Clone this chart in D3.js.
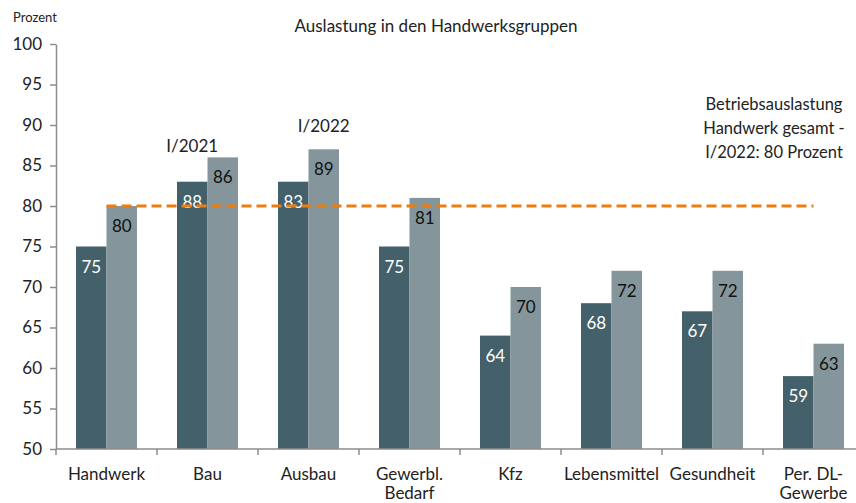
<!DOCTYPE html>
<html>
<head>
<meta charset="utf-8">
<script src="https://cdn.jsdelivr.net/npm/d3@7"></script>
<style>
  body { margin: 0; background: #fff; }
  text { font-family: Lato, "Open Sans", sans-serif; fill: #222; }
</style>
</head>
<body>
<script>
// data
const categories = ["Handwerk", "Bau", "Ausbau", "Gewerbl.|Bedarf", "Kfz", "Lebensmittel", "Gesundheit", "Per. DL-|Gewerbe"];
const series = ["I/2021", "I/2022"];
const values2021 = [75, 83, 83, 75, 64, 68, 67, 59];
const values2022 = [80, 86, 87, 81, 70, 72, 72, 63];
// printed labels (not always equal to bar heights in the original)
const labels2021 = [75, 88, 83, 75, 64, 68, 67, 59];
const labels2022 = [80, 86, 89, 81, 70, 72, 72, 63];
const yTicks = [50, 55, 60, 65, 70, 75, 80, 85, 90, 95, 100];
const totalValue = 80;

const canvWidth = 856, canvHeight = 503;
const svg = d3.select("body").append("svg")
    .attr("width", canvWidth)
    .attr("height", canvHeight);

const colors = ["#44606a", "#84969b"];

const yScale = d3.scaleLinear().domain([50, 100]).range([449, 44]);
const xScale = d3.scaleBand().domain(categories).range([56, 864]);
const xSub = d3.scaleBand().domain(series).range([20, xScale.bandwidth() - 20]);

// title
svg.append("text")
    .attr("x", 436).attr("y", 32)
    .attr("font-size", "17px")
    .style("text-anchor", "middle")
    .text("Auslastung in den Handwerksgruppen");

svg.append("text")
    .attr("x", 13).attr("y", 22)
    .attr("font-size", "13px")
    .text("Prozent");

// bars
const rows = categories.map((c, i) => ({
    cat: c,
    vals: [
        {s: series[0], v: values2021[i], l: labels2021[i]},
        {s: series[1], v: values2022[i], l: labels2022[i]}
    ]
}));

const groups = svg.append("g").selectAll("g")
    .data(rows)
    .enter().append("g")
    .attr("transform", d => "translate(" + xScale(d.cat) + ",0)");

groups.selectAll("rect")
    .data(d => d.vals)
    .enter().append("rect")
    .attr("x", d => xSub(d.s))
    .attr("y", d => yScale(d.v))
    .attr("width", xSub.bandwidth())
    .attr("height", d => yScale(50) - yScale(d.v))
    .style("fill", (d, i) => colors[i]);

groups.selectAll("text.val")
    .data(d => d.vals)
    .enter().append("text")
    .attr("class", "val")
    .attr("x", d => xSub(d.s) + xSub.bandwidth() / 2)
    .attr("y", d => yScale(d.v) + 26)
    .attr("font-size", "17px")
    .style("text-anchor", "middle")
    .style("fill", (d, i) => i == 0 ? "#fff" : "#111")
    .text(d => d.l);

// axes
const yAxis = svg.append("g")
    .attr("transform", "translate(56,0)")
    .call(d3.axisLeft(yScale).tickValues(yTicks).tickSize(6).tickSizeOuter(0));
yAxis.selectAll("text").attr("font-size", "17px").attr("x", -14).style("fill", "#222");

const xAxis = svg.append("g")
    .attr("transform", "translate(0,449)");
xAxis.append("line")
    .attr("x1", 56).attr("x2", canvWidth)
    .attr("stroke", "#8c8c8c").attr("stroke-width", 1.5);
xAxis.selectAll("line.tick")
    .data(categories)
    .enter().append("line")
    .attr("class", "tick")
    .attr("x1", d => xScale(d)).attr("x2", d => xScale(d))
    .attr("y1", 0).attr("y2", 6)
    .attr("stroke", "#8c8c8c").attr("stroke-width", 1.5);
xAxis.selectAll("text")
    .data(categories)
    .enter().append("text")
    .attr("x", d => xScale(d) + xScale.bandwidth() / 2)
    .attr("y", 31)
    .attr("font-size", "17px")
    .style("text-anchor", "middle")
    .each(function(d) {
        d.split("|").forEach((line, i) => {
            d3.select(this).append("tspan")
                .attr("x", xScale(d) + xScale.bandwidth() / 2)
                .attr("dy", i == 0 ? 0 : 19)
                .text(line);
        });
    });

yAxis.select(".domain").attr("stroke", "#8c8c8c").attr("stroke-width", 1.5);
yAxis.selectAll(".tick line").attr("stroke", "#8c8c8c").attr("stroke-width", 1.5);

// total line
const first = categories[0], last = categories[categories.length - 1];
svg.append("line")
    .attr("x1", xScale(first) + xScale.bandwidth() / 2)
    .attr("x2", xScale(last) + xScale.bandwidth() / 2)
    .attr("y1", yScale(totalValue)).attr("y2", yScale(totalValue))
    .attr("stroke", "#ed7d0f")
    .attr("stroke-width", 3)
    .attr("stroke-dasharray", "10,5");

// series annotations
svg.append("text")
    .attr("x", xScale("Bau") + xSub(series[0]) + xSub.bandwidth() / 2)
    .attr("y", 152)
    .attr("font-size", "17px")
    .style("text-anchor", "middle")
    .text(series[0]);
svg.append("text")
    .attr("x", xScale("Ausbau") + xSub(series[1]) + xSub.bandwidth() / 2)
    .attr("y", 132)
    .attr("font-size", "17px")
    .style("text-anchor", "middle")
    .text(series[1]);

const note = ["Betriebsauslastung", "Handwerk gesamt -", "I/2022: 80 Prozent"];
svg.append("g").selectAll("text")
    .data(note)
    .enter().append("text")
    .attr("x", 774)
    .attr("y", (d, i) => 110 + i * 24)
    .attr("font-size", "16.5px")
    .style("text-anchor", "middle")
    .text(d => d);
</script>
</body>
</html>
